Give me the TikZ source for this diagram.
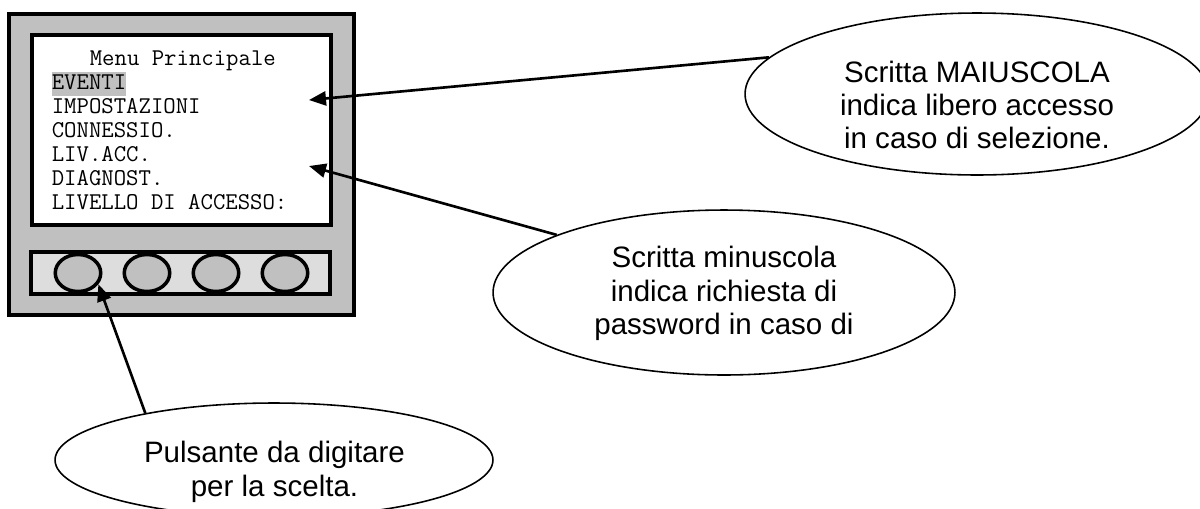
\documentclass[tikz,border=0pt]{standalone}
\usepackage{fontspec}
\setmainfont{Liberation Sans}
\usepackage{tikz}
\usetikzlibrary{arrows.meta}
\usetikzlibrary{shapes.geometric}
\definecolor{panelgray}{HTML}{C0C0C0}
\definecolor{bargray}{HTML}{DDDDDD}

\begin{document}
\begin{tikzpicture}[x=0.02cm, y=-0.02cm, >={Triangle[length=3.4mm,width=2.8mm]},
  menuline/.style={anchor=base west, inner sep=0pt, font=\ttfamily\fontsize{13.7}{15}\selectfont},
  bubble/.style={draw, ellipse, inner sep=0pt, line width=0.9pt},
  bubbletext/.style={align=center, inner sep=0pt, font=\fontsize{16.8}{19}\selectfont},
  keybutton/.style={draw, ellipse, fill=panelgray, line width=2pt, minimum width=0.91cm, minimum height=0.74cm, inner sep=0pt},
  pointer/.style={->, line width=1.5pt},]
\useasboundingbox (0,0) rectangle (1200,508);
% display unit
\draw[line width=2.2pt, fill=panelgray] (9,14) rectangle (354,315);
\draw[line width=2.2pt, fill=white] (32,35) rectangle (331,225);
\draw[line width=2.2pt, fill=bargray] (31,252) rectangle (330,294);
\node[keybutton] (btnA) at (78,273) {};
\node[keybutton] (btnB) at (147,273) {};
\node[keybutton] (btnC) at (216,273) {};
\node[keybutton] (btnD) at (285,273) {};
% menu text
\node[menuline] (mTitle) at (89.5,65.5) {Menu Principale};
\node[menuline, fill=panelgray, text height=10pt, text depth=3.6pt] (mEventi) at (51.5,89.5) {EVENTI};
\node[menuline] (mImpost) at (51.5,113.5) {IMPOSTAZIONI};
\node[menuline] (mConn) at (51.5,137.5) {CONNESSIO.};
\node[menuline] (mLiv) at (51.5,161.5) {LIV.ACC.};
\node[menuline] (mDiag) at (51.5,185.5) {DIAGNOST.};
\node[menuline] (mAccesso) at (51.5,209.5) {LIVELLO DI ACCESSO:};
% callouts
\node[bubble, minimum width=9.28cm, minimum height=3.24cm] (upperNote) at (977,94) {};
\node[bubbletext] (upperText) at (977,105) {Scritta MAIUSCOLA\\indica libero accesso\\in caso di selezione.};
\node[bubble, minimum width=9.24cm, minimum height=3.3cm] (lowerNote) at (724,292.5) {};
\node[bubbletext] (lowerText) at (724,293.5) {Scritta minuscola\\indica richiesta di\\password in caso di};
\node[bubble, minimum width=8.76cm, minimum height=2.28cm] (pressNote) at (274,460) {};
\node[bubbletext] (pressText) at (274.5,472) {Pulsante da digitare\\per la scelta.};
\coordinate (tipUpper) at (309,100);
\coordinate (tipLower) at (309,166);
\draw[pointer] (upperNote.170) -- (tipUpper);
\draw[pointer] (lowerNote.161) -- (tipLower);
\draw[pointer] (pressNote.160) -- (btnA.-29);
\end{tikzpicture}
\end{document}
